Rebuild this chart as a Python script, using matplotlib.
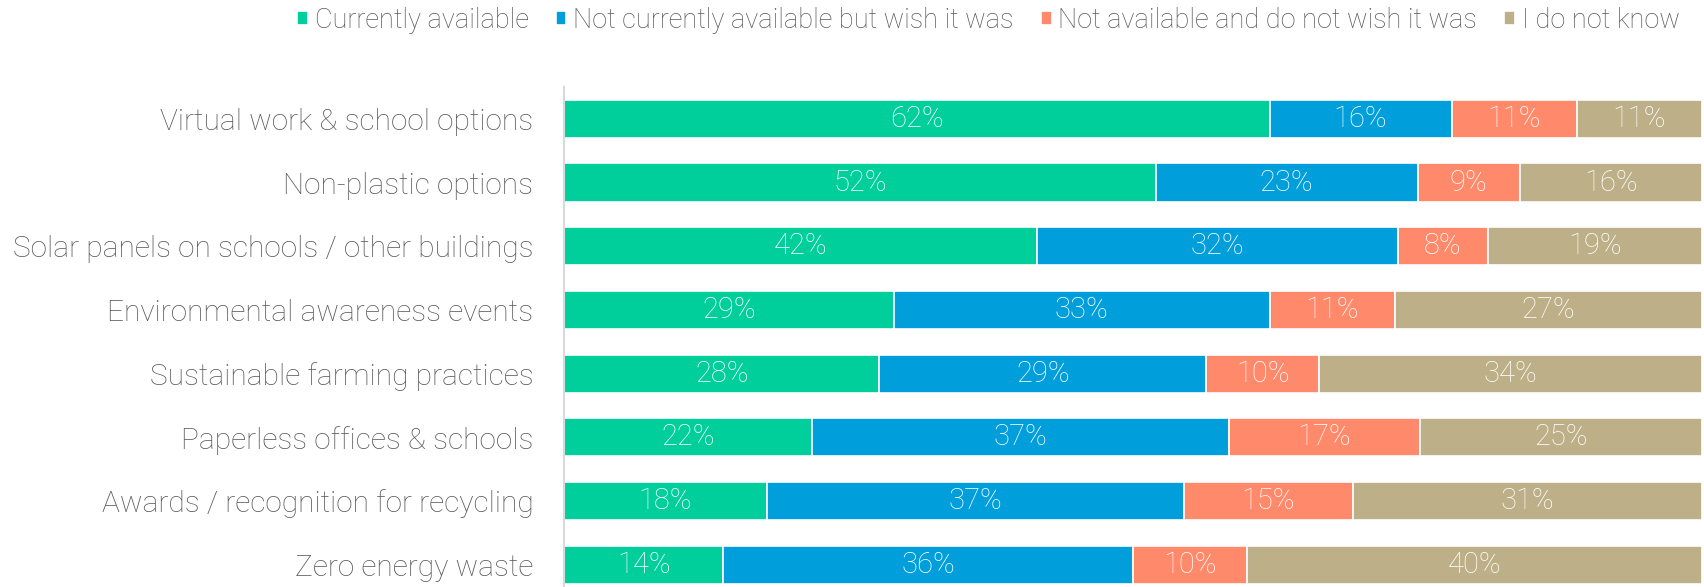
import matplotlib
matplotlib.use("Agg")
import matplotlib.pyplot as plt
import numpy as np

categories = [
    "Virtual work & school options",
    "Non-plastic options",
    "Solar panels on schools / other buildings",
    "Environmental awareness events",
    "Sustainable farming practices",
    "Paperless offices & schools",
    "Awards / recognition for recycling",
    "Zero energy waste",
]
series_names = [
    "Currently available",
    "Not currently available but wish it was",
    "Not available and do not wish it was",
    "I do not know",
]
currently_available = [62, 52, 42, 29, 28, 22, 18, 14]
wish_it_was = [16, 23, 32, 33, 29, 37, 37, 36]
do_not_wish = [11, 9, 8, 11, 10, 17, 15, 10]
do_not_know = [11, 16, 19, 27, 34, 25, 31, 40]

colors = ["#00CF9C", "#009FDB", "#FF896B", "#BDB088"]

plt.rcParams['font.family'] = ['Roboto', 'DejaVu Sans']

fig = plt.figure(figsize=(17.04, 5.87), dpi=100)
ax = fig.add_axes([564/1704, 0.0, (1702-564)/1704, 1 - 87/587])

data = np.array([currently_available, wish_it_was, do_not_wish, do_not_know], dtype=float)
totals = data.sum(axis=0)
widths = data / totals * 100
y = np.arange(len(categories))
left = np.zeros(len(categories))
for i, name in enumerate(series_names):
    ax.barh(y, widths[i], left=left, height=0.6, color=colors[i],
            edgecolor="white", linewidth=1.2, label=name)
    for j in range(len(categories)):
        ax.text(left[j] + widths[i][j] / 2, y[j], f"{int(data[i][j])}%",
                ha="center", va="center", color="white", fontsize=21,
                fontweight="light")
    left += widths[i]

ax.set_xlim(0, 100)
ax.set_ylim(7.35, -0.5)
ax.set_yticks(y)
ax.set_yticklabels(categories, fontsize=21.5, color="#595959", fontweight="light")
ax.tick_params(axis="y", length=0, pad=22)
ax.set_xticks([])
for s in ["top", "right", "bottom"]:
    ax.spines[s].set_visible(False)
ax.spines["left"].set_color("#D9D9D9")
ax.spines["left"].set_linewidth(1.5)

leg = fig.legend(*ax.get_legend_handles_labels(), loc="upper right",
                 bbox_to_anchor=(1.0, 1.03), ncol=4, frameon=False,
                 fontsize=19.5, handlelength=0.4, handleheight=0.4,
                 handletextpad=0.25, columnspacing=1.0)
for t in leg.get_texts():
    t.set_color("#595959")
    t.set_fontweight("light")

fig.savefig("out.png", dpi=100)
